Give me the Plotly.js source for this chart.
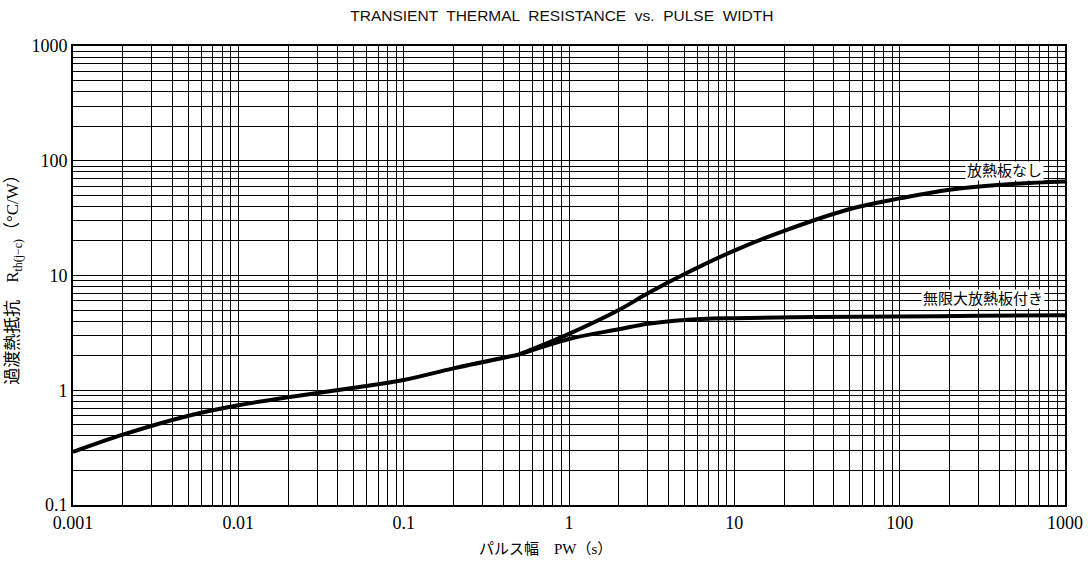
<!DOCTYPE html>
<html><head><meta charset="utf-8">
<script src="https://cdn.plot.ly/plotly-3.0.1.min.js"></script>
<style>body{margin:0;background:#fff}#c{width:1091px;height:564px}</style>
</head><body><div id="c"></div>
<script>
var xCommon = [0.001, 0.002, 0.005, 0.01, 0.02, 0.05, 0.1, 0.2, 0.5];
var yCommon = [0.29, 0.41, 0.6, 0.74, 0.87, 1.05, 1.23, 1.55, 2.05];
var xNoSink = [0.5, 1, 2, 3, 5, 10, 20, 50, 100, 200, 500, 1000];
var yNoSink = [2.05, 3.1, 5.0, 7.0, 10.3, 16.5, 24.5, 38, 47, 56, 63, 66];
var xInfSink = [0.5, 1, 2, 3, 5, 10, 30, 100, 300, 1000];
var yInfSink = [2.05, 2.8, 3.4, 3.8, 4.1, 4.25, 4.35, 4.4, 4.45, 4.5];
var labelNoSink = '放熱板なし';
var labelInfSink = '無限大放熱板付き';
var xTickVals = [0.001, 0.01, 0.1, 1, 10, 100, 1000];
var xTickText = ['0.001', '0.01', '0.1', '1', '10', '100', '1000'];
var yTickVals = [0.1, 1, 10, 100, 1000];
var yTickText = ['0.1', '1', '10', '100', '1000'];

// grid positions: every 1..9 multiple within each decade, labels only at decades
function gridTicks(decades, labels) {
  var vals = [], text = [];
  for (var i = 0; i < decades.length; i++) {
    vals.push(decades[i]); text.push(labels[i]);
    if (i < decades.length - 1) {
      for (var m = 2; m <= 9; m++) { vals.push(decades[i] * m); text.push(''); }
    }
  }
  return {vals: vals, text: text};
}
var gx = gridTicks(xTickVals, xTickText);
var gy = gridTicks(yTickVals, yTickText);

var lineStyle = {color: '#000', width: 4, shape: 'spline', smoothing: 1};
var traces = [
  {x: xCommon, y: yCommon, mode: 'lines', line: lineStyle, hoverinfo: 'none'},
  {x: xNoSink, y: yNoSink, mode: 'lines', line: lineStyle, hoverinfo: 'none'},
  {x: xInfSink, y: yInfSink, mode: 'lines', line: lineStyle, hoverinfo: 'none'}
];
var serif = '"Liberation Serif", "DejaVu Serif", serif';
var jp = '"Liberation Serif", "Noto Sans CJK JP", serif';
function makeAxis(rng, g, title) {
  return {
    type: 'log', range: rng, showgrid: true, gridcolor: '#000', gridwidth: 1,
    showline: true, linecolor: '#000', linewidth: 2, mirror: true,
    ticks: '', zeroline: false,
    tickmode: 'array', tickvals: g.vals, ticktext: g.text,
    tickfont: {family: serif, size: 18, color: '#000'},
    title: title
  };
}
var layout = {
  width: 1091, height: 564,
  margin: {l: 73, r: 26, t: 46, b: 59},
  paper_bgcolor: '#fff', plot_bgcolor: '#fff',
  showlegend: false,
  font: {family: serif, size: 17, color: '#000'},
  title: {text: 'TRANSIENT  THERMAL  RESISTANCE  vs.  PULSE  WIDTH', x: 0.515, xanchor: 'center', y: 0.973, yanchor: 'middle',
    font: {family: '"Liberation Sans", Arial, sans-serif', size: 15.5, color: '#111'}},
  xaxis: makeAxis([-3, 3], gx, {text: ''}),
  yaxis: makeAxis([-1, 3], gy,
    {text: '過渡熱抵抗　R<sub>th(j−c)</sub>（°C/W）', font: {family: jp, size: 17, color: '#000'}, standoff: 8}),
  annotations: [
    {x: 0.476, y: -0.095, xref: 'paper', yref: 'paper', xanchor: 'center', yanchor: 'middle',
      text: 'パルス幅　PW（s）', showarrow: false, font: {family: jp, size: 15, color: '#000'}},
    {x: Math.log10(430), y: Math.log10(82), xref: 'x', yref: 'y', text: labelNoSink, showarrow: false,
      bgcolor: '#fff', font: {family: jp, size: 15, color: '#000'}, borderpad: 1},
    {x: Math.log10(320), y: Math.log10(6.3), xref: 'x', yref: 'y', text: labelInfSink, showarrow: false,
      bgcolor: '#fff', font: {family: jp, size: 15, color: '#000'}, borderpad: 1}
  ]
};
Plotly.newPlot('c', traces, layout, {staticPlot: true});
</script></body></html>
